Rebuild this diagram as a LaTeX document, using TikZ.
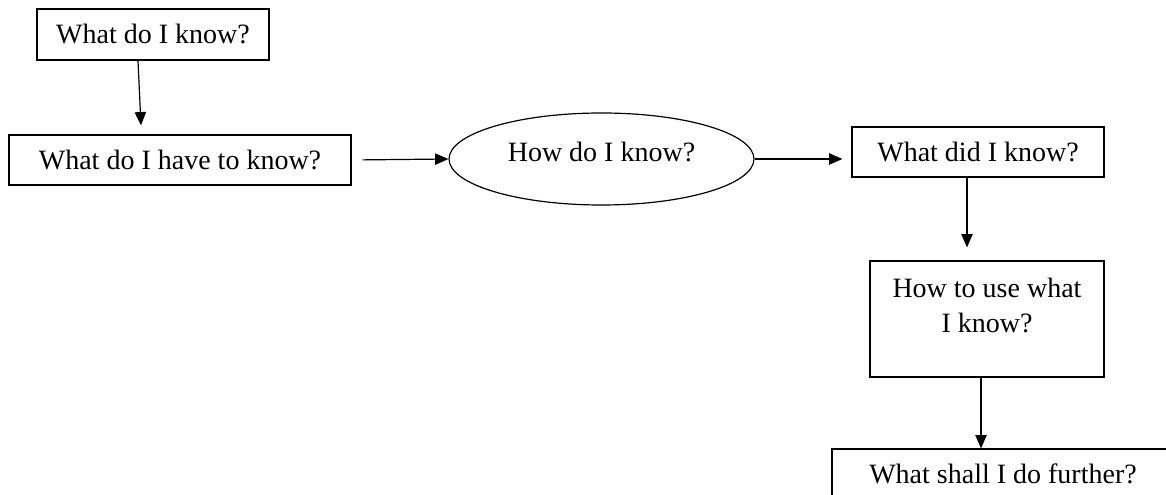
\documentclass[tikz,border=0pt]{standalone}
\usepackage{fontspec}
\setmainfont{Liberation Serif}
\usetikzlibrary{shapes.geometric,arrows.meta,calc}

\tikzset{
  qbox/.style={draw, line width=0.9pt, inner sep=0pt, align=center,
    font=\fontsize{21}{26}\selectfont},
  qoval/.style={qbox, ellipse},
  arr/.style={-{Triangle[length=10pt,width=8.5pt]}, line width=0.9pt}
}

\begin{document}
\begin{tikzpicture}[x=0.75pt, y=-0.75pt]
  \useasboundingbox (0,0) rectangle (1166,495);
  \clip (0,0) rectangle (1166,495);

  % Questions
  \node[qbox, minimum width=174pt, minimum height=38.25pt] (know) at (153,34.5) {What do I know?};
  \node[qbox, minimum width=256.5pt, minimum height=37.5pt] (have) at (180,160) {What do I have to know?};
  \node[qoval, minimum width=228.75pt, minimum height=69pt] (how) at (601.5,159) {How do I know?\\[-23pt]\strut};
  \node[qbox, minimum width=189pt, minimum height=37.5pt] (did) at (978,152) {What did I know?};
  \node[qbox, minimum width=175.5pt, minimum height=87pt] (use) at (987,319) {How to use what\\I know?\\[-13.5pt]\strut};
  \node[qbox, minimum width=256.5pt, minimum height=37.5pt] (further) at (1003,474) {What shall I do further?};

  % Arrows
  \draw[arr] ($(know.south)+(-15,0)$) -- ($(have.north)+(-39,-9)$);
  \draw[arr, shorten <=8.25pt] (have.east) -- (how.west);
  \draw[arr, shorten >=6.75pt] (how.east) -- (how.east -| did.west);
  \draw[arr] ($(did.south)+(-11,0)$) -- ($(use.north)+(-20,-13)$);
  \draw[arr] ($(use.south)+(-6,0)$) -- ($(further.north)+(-22,0)$);
\end{tikzpicture}
\end{document}
